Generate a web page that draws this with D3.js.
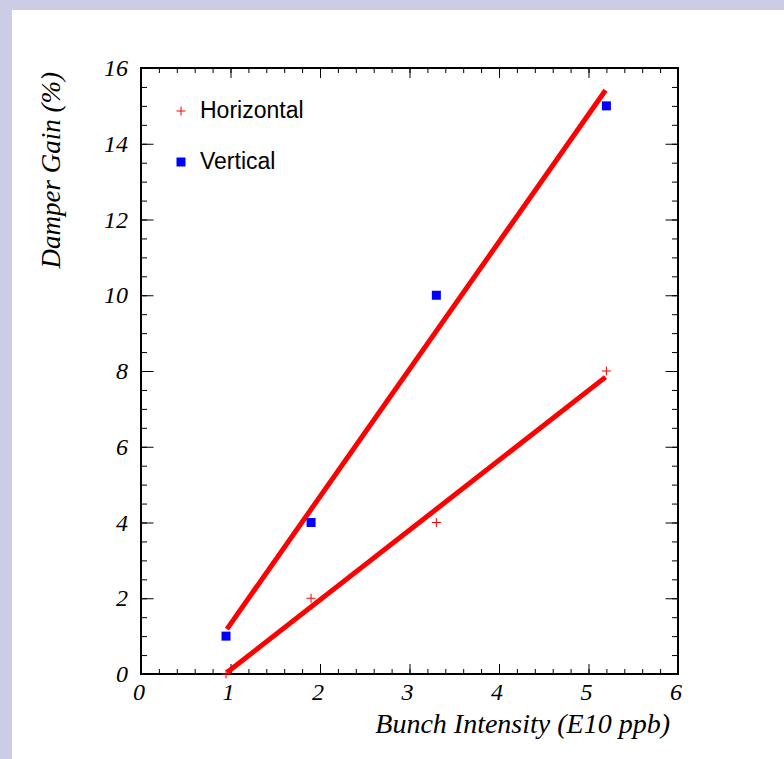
<!DOCTYPE html>
<html>
<head>
<meta charset="utf-8">
<script src="https://cdn.jsdelivr.net/npm/d3@7"></script>
<style>
  body { margin: 0; background: #fff; }
  svg { display: block; }
</style>
</head>
<body>
<script>
// data
const intensity = [0.95, 1.9, 3.3, 5.2];      // E10 ppb
const horizontal = [0, 2, 4, 8];              // damper gain %
const vertical = [1, 4, 10, 15];
const fitRange = [0.96, 5.19];
const xTicks = [0, 1, 2, 3, 4, 5, 6];
const yTicks = [0, 2, 4, 6, 8, 10, 12, 14, 16];
const legendNames = ["Horizontal", "Vertical"];

const W = 784, H = 759;
const svg = d3.select('body').append('svg').attr('width', W).attr('height', H);

// canvas border + pad
svg.append('rect').attr('width', W).attr('height', H).attr('fill', '#ccccE6');
svg.append('rect').attr('x', 12).attr('y', 10).attr('width', W - 12).attr('height', H - 10).attr('fill', '#fff');

const x = d3.scaleLinear().domain([0, 6]).range([141, 678]);
const y = d3.scaleLinear().domain([0, 16]).range([674, 68]);

const serif = '"Liberation Serif", "Times New Roman", serif';
const sans = '"Liberation Sans", Arial, sans-serif';

// ticks on all four sides, pointing inward
function ticks(axis, tr, vals, size) {
  const g = svg.append('g').attr('transform', tr)
    .call(axis.tickValues(vals).tickSize(size).tickFormat(''));
  g.select('.domain').remove();
  g.selectAll('line').attr('stroke', '#000').attr('stroke-width', 1);
}
const xMinor = d3.range(0, 30.5).map(i => i / 5);
const yMinor = d3.range(0, 32.5).map(i => i / 2);
ticks(d3.axisBottom(x), 'translate(0,674)', xMinor, -5);
ticks(d3.axisBottom(x), 'translate(0,674)', xTicks, -10);
ticks(d3.axisTop(x), 'translate(0,68)', xMinor, -5);
ticks(d3.axisTop(x), 'translate(0,68)', xTicks, -10);
ticks(d3.axisLeft(y), 'translate(141,0)', yMinor, -6);
ticks(d3.axisLeft(y), 'translate(141,0)', yTicks, -12.5);
ticks(d3.axisRight(y), 'translate(678,0)', yMinor, -6);
ticks(d3.axisRight(y), 'translate(678,0)', yTicks, -12.5);

// frame
svg.append('rect').attr('x', x(0)).attr('y', y(16))
  .attr('width', x(6) - x(0)).attr('height', y(0) - y(16))
  .attr('fill', 'none').attr('stroke', '#000').attr('stroke-width', 2);

// tick labels
svg.append('g').selectAll('text').data(xTicks).join('text')
  .attr('x', d => x(d) - 2).attr('y', 700)
  .attr('text-anchor', 'middle')
  .style('font-family', serif).style('font-style', 'italic').style('font-size', '24px')
  .text(d => d);
svg.append('g').selectAll('text').data(yTicks).join('text')
  .attr('x', 128).attr('y', d => y(d) + 8)
  .attr('text-anchor', 'end')
  .style('font-family', serif).style('font-style', 'italic').style('font-size', '24px')
  .text(d => d);

// axis titles
svg.append('text').attr('x', 670).attr('y', 733).attr('text-anchor', 'end')
  .style('font-family', serif).style('font-style', 'italic').style('font-size', '28px')
  .text('Bunch Intensity (E10 ppb)');
svg.append('text').attr('transform', 'translate(60,72) rotate(-90)').attr('text-anchor', 'end')
  .style('font-family', serif).style('font-style', 'italic').style('font-size', '27px')
  .text('Damper Gain (%)');

// least squares fits
function fit(xs, ys) {
  const mx = d3.mean(xs), my = d3.mean(ys);
  const sxy = d3.sum(xs, (v, i) => (v - mx) * (ys[i] - my));
  const sxx = d3.sum(xs, v => (v - mx) * (v - mx));
  const b = sxy / sxx;
  return v => my + b * (v - mx);
}
[vertical, horizontal].forEach(ys => {
  const f = fit(intensity, ys);
  svg.append('path')
    .attr('d', d3.line().x(d => x(d)).y(d => y(f(d)))(fitRange))
    .attr('stroke', '#ff0000').attr('stroke-width', 5).attr('fill', 'none');
});

// markers
const plus = svg.append('g');
intensity.forEach((d, i) => {
  const cx = x(d), cy = y(horizontal[i]);
  plus.append('path').attr('d', `M${cx - 4.5},${cy}H${cx + 4.5}M${cx},${cy - 4.5}V${cy + 4.5}`)
    .attr('stroke', '#ff0000').attr('stroke-width', 1);
});
svg.append('g').selectAll('rect').data(intensity).join('rect')
  .attr('x', d => x(d) - 4.5).attr('y', (d, i) => y(vertical[i]) - 4.5)
  .attr('width', 9).attr('height', 9).attr('fill', '#0000ff');

// legend
const leg = svg.append('g');
leg.append('path').attr('d', 'M176.5,111H185.5M181,106.5V115.5')
  .attr('stroke', '#ff0000').attr('stroke-width', 1);
leg.append('rect').attr('x', 176.5).attr('y', 157.5).attr('width', 9).attr('height', 9).attr('fill', '#0000ff');
leg.selectAll('text').data(legendNames).join('text')
  .attr('x', 200).attr('y', (d, i) => 118 + i * 51)
  .style('font-family', sans).style('font-size', '23px')
  .text(d => d);
</script>
</body>
</html>
